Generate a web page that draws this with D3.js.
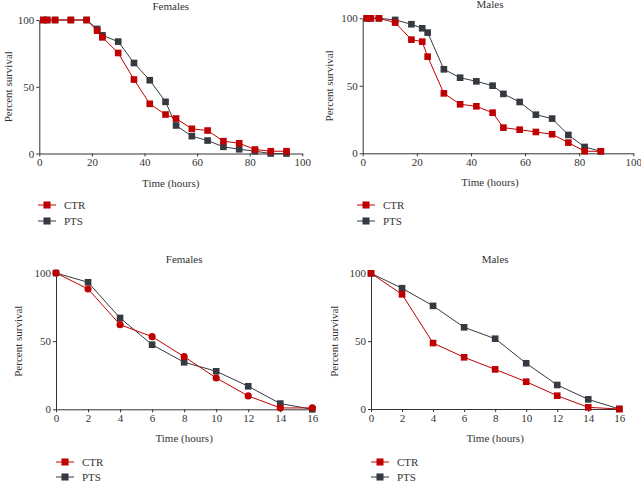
<!DOCTYPE html>
<html><head><meta charset="utf-8">
<script src="https://cdn.jsdelivr.net/npm/d3@7"></script>
<style>body{margin:0;background:#fff}svg{display:block}text{font-family:"Liberation Serif","DejaVu Serif",serif;fill:#333}</style>
</head><body>
<script>
// Top row: time in hours 0-100
const timeTop = [1.5, 3, 6, 12, 18, 22, 24, 30, 36, 42, 48, 52, 58, 64, 70, 76, 82, 88, 94];
const femTopCTR = [100, 100, 100, 100, 100, 92, 87, 75.3, 55.4, 37.2, 29.2, 26.2, 18.5, 17.2, 9.2, 7.7, 3, 1.7, 1.7];
const femTopPTS = [100, 100, 100, 100, 100, 93.3, 88.5, 83.8, 67.8, 54.9, 38.7, 21, 13, 9.7, 5, 3.2, 1.7, 0, 0];
const timeTopM = [1.5, 3, 6, 12, 18, 22, 24, 30, 36, 42, 48, 52, 58, 64, 70, 76, 82, 88];
const maleTopCTR = [100, 100, 100, 96.8, 84.2, 82.7, 71.6, 44.4, 36.3, 34.8, 30.1, 19, 17.5, 15.8, 14.1, 7.9, 1.5, 1.5];
const maleTopPTS = [100, 100, 100, 98.8, 95.6, 92.6, 89.4, 62.2, 56, 53.3, 50.1, 44, 38, 28.6, 25.7, 13.6, 4.7, 1.5];
// Bottom row: time in hours 0-16
const timeBot = [0, 2, 4, 6, 8, 10, 12, 14, 16];
const femBotCTR = [100, 88.3, 62.1, 53.3, 38.6, 23, 9.8, 1, 1];
const femBotPTS = [100, 93.2, 67, 47.4, 34.5, 27.9, 16.9, 4.2, 0];
const maleBotCTR = [100, 84.5, 48.6, 38.1, 29.2, 20.1, 9.8, 1.2, 0];
const maleBotPTS = [100, 89, 76, 60.2, 51.8, 33.7, 17.7, 7.1, 0];
const ticksTop = [0, 20, 40, 60, 80, 100];
const ticksBot = [0, 2, 4, 6, 8, 10, 12, 14, 16];
const ticksY = [0, 50, 100];
const seriesNames = ["CTR", "PTS"];
const RED = "#c00000", DARK = "#353a40";

const svg = d3.select("body").append("svg").attr("width", 641).attr("height", 481);

function panel(o) {
  const g = svg.append("g");
  const x = d3.scaleLinear().domain(o.xDomain).range([o.x0, o.x1]);
  const y = d3.scaleLinear().domain([0, 100]).range([o.y0, o.y1]);
  const ax = g.append("g").attr("transform", `translate(0,${o.y0})`)
    .call(d3.axisBottom(x).tickValues(o.xticks).tickSize(3).tickSizeOuter(0).tickPadding(2));
  const ay = g.append("g").attr("transform", `translate(${o.x0},0)`)
    .call(d3.axisLeft(y).tickValues(ticksY).tickSize(3).tickSizeOuter(0).tickPadding(2));
  [ax, ay].forEach(a => {
    a.selectAll("path,line").attr("stroke", "#333").attr("stroke-width", 1);
    a.selectAll("text").attr("font-size", 11).style("fill", "#333")
      .attr("font-family", '"Liberation Serif","DejaVu Serif",serif');
  });
  g.append("text").attr("x", (o.x0 + o.x1) / 2 + o.titleDx).attr("y", o.y1 - 10)
    .attr("text-anchor", "middle").attr("font-size", 11).text(o.title);
  g.append("text").attr("x", (o.x0 + o.x1) / 2 + o.titleDx).attr("y", o.y0 + 33)
    .attr("text-anchor", "middle").attr("font-size", 11).text("Time (hours)");
  g.append("text").attr("transform", `translate(${o.ylx},${(o.y0 + o.y1) / 2}) rotate(-90)`)
    .attr("text-anchor", "middle").attr("font-size", 11).text("Percent survival");
  const line = d3.line().x(d => x(d[0])).y(d => y(d[1]));
  const series = [
    {vals: o.ctr, color: RED, shape: o.ctrShape},
    {vals: o.pts, color: DARK, shape: "square"}
  ];
  // draw CTR first then PTS? reference: red drawn on top in most regions; draw PTS first
  [series[1], series[0]].forEach(s => {
    const pts = o.t.map((t, i) => [t, s.vals[i]]);
    g.append("path").attr("d", line(pts)).attr("fill", "none").attr("stroke", s.color).attr("stroke-width", 1);
    const sym = d3.symbol().type(s.shape === "circle" ? d3.symbolCircle : d3.symbolSquare).size(s.shape === "circle" ? 40 : 44);
    g.selectAll(null).data(pts).enter().append("path")
      .attr("d", sym).attr("transform", d => `translate(${x(d[0])},${y(d[1])})`)
      .attr("fill", s.color);
  });
  // legend
  series.forEach((s, i) => {
    const ly = o.legY + i * o.legGap;
    g.append("line").attr("x1", o.legX - 9).attr("x2", o.legX + 9).attr("y1", ly).attr("y2", ly)
      .attr("stroke", s.color).attr("stroke-width", 1);
    g.append("path").attr("d", d3.symbol().type(d3.symbolSquare).size(50)())
      .attr("transform", `translate(${o.legX},${ly})`).attr("fill", s.color);
    g.append("text").attr("x", o.legX + 17).attr("y", ly + 4).attr("font-size", 11).text(seriesNames[i]);
  });
}

panel({t: timeTop, ctr: femTopCTR, pts: femTopPTS, ctrShape: "square", xDomain: [0, 100], xticks: ticksTop,
  x0: 39.3, x1: 302.3, y0: 153.5, y1: 20, title: "Females", titleDx: 0, ylx: 12, legX: 47, legY: 205, legGap: 16});
panel({t: timeTopM, ctr: maleTopCTR, pts: maleTopPTS, ctrShape: "square", xDomain: [0, 100], xticks: ticksTop,
  x0: 362.7, x1: 633.3, y0: 153.3, y1: 18.3, title: "Males", titleDx: -8, ylx: 333, legX: 366, legY: 205, legGap: 16});
panel({t: timeBot, ctr: femBotCTR, pts: femBotPTS, ctrShape: "circle", xDomain: [0, 16], xticks: ticksBot,
  x0: 56, x1: 312.3, y0: 409.3, y1: 273, title: "Females", titleDx: 0, ylx: 22, legX: 65, legY: 462, legGap: 15});
panel({t: timeBot, ctr: maleBotCTR, pts: maleBotPTS, ctrShape: "square", xDomain: [0, 16], xticks: ticksBot,
  x0: 371, x1: 619.3, y0: 409, y1: 273.3, title: "Males", titleDx: 0, ylx: 338, legX: 380, legY: 462, legGap: 15});
</script>
</body></html>
